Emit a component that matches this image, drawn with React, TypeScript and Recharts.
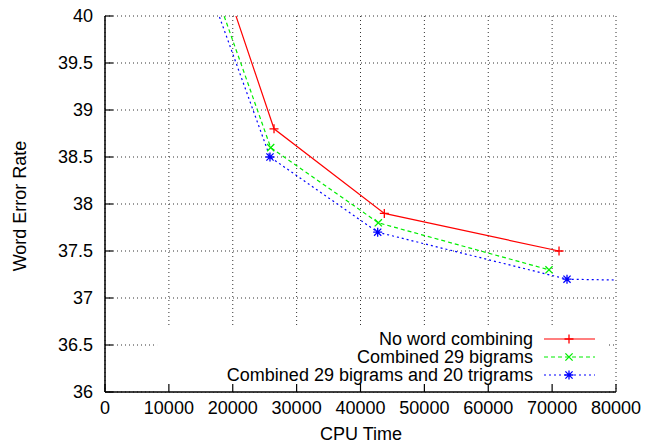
import React from 'react';
import { ComposedChart, Line, XAxis, YAxis, CartesianGrid, ReferenceArea, Legend } from 'recharts';

const FONT = '"Liberation Sans", Arial, Helvetica, sans-serif';
const FS = 18;

const xTicks = [0, 10000, 20000, 30000, 40000, 50000, 60000, 70000, 80000];
const yTicks = [36, 36.5, 37, 37.5, 38, 38.5, 39, 39.5, 40];

const noCombCpu = [15000, 26460, 43730, 71080];
const noCombWer = [41.11, 38.8, 37.9, 37.5];
const bigramCpu = [15000, 25940, 42790, 69510];
const bigramWer = [40.7, 38.6, 37.8, 37.3];
const trigramCpu = [15000, 25830, 42690, 72330, 90000];
const trigramWer = [40.54, 38.5, 37.7, 37.2, 37.18];

const seriesNames = ['No word combining', 'Combined 29 bigrams', 'Combined 29 bigrams and 20 trigrams'];
const seriesColors = ['#ff0000', '#00ee00', '#0000ff'];
const seriesDash = [undefined, '4 3', '2 3'];

const toPoints = (xs: number[], ys: number[]) => xs.map((x, i) => ({ x, y: ys[i] }));
const noComb = toPoints(noCombCpu, noCombWer);
const bigram = toPoints(bigramCpu, bigramWer);
const trigram = toPoints(trigramCpu, trigramWer);

const Marker = ({ cx, cy, kind, color }: { cx: number; cy: number; kind: number; color: string }) => {
  const s = 4.5;
  const d = 3.6;
  let path = '';
  if (kind === 0) path = `M${cx - s},${cy}H${cx + s}M${cx},${cy - s}V${cy + s}`;
  else if (kind === 1) path = `M${cx - d},${cy - d}L${cx + d},${cy + d}M${cx - d},${cy + d}L${cx + d},${cy - d}`;
  else
    path = `M${cx - s},${cy}H${cx + s}M${cx},${cy - s}V${cy + s}M${cx - d},${cy - d}L${cx + d},${cy + d}M${cx - d},${cy + d}L${cx + d},${cy - d}`;
  return <path d={path} stroke={color} strokeWidth={1.3} fill="none" />;
};

const makeDot = (kind: number) => (p: any) => {
  if (p.cx == null || p.cy == null) return <g key={`d${kind}-${p.index}`} />;
  return (
    <g key={`d${kind}-${p.index}`}>
      <Marker cx={p.cx} cy={p.cy} kind={kind} color={seriesColors[kind]} />
    </g>
  );
};

const LegendBox = () => (
  <svg width={410} height={60} style={{ display: 'block' }}>
    {seriesNames.map((name, i) => {
      const y = 11 + i * 18;
      return (
        <g key={name}>
          <text x={333} y={y} dy="0.35em" textAnchor="end" fontSize={FS} fontFamily={FONT} fill="#000">
            {name}
          </text>
          <line x1={344} x2={395} y1={y} y2={y} stroke={seriesColors[i]} strokeWidth={1.2} strokeDasharray={seriesDash[i]} />
          <Marker cx={369} cy={y} kind={i} color={seriesColors[i]} />
        </g>
      );
    })}
  </svg>
);

const axisLine = { stroke: '#000', strokeWidth: 1.5 };
const tickLine = { stroke: '#000', strokeWidth: 1.2 };
const tickStyle = { fill: '#000', fontSize: FS, fontFamily: FONT };

export default function App() {
  return (
    <div style={{ position: 'absolute', left: 0, top: 0, width: 657, height: 445, background: '#fff', fontFamily: FONT }}>
      <ComposedChart width={657} height={445} margin={{ top: 16, right: 41, bottom: 0, left: 0 }}>
        <CartesianGrid stroke="#333" strokeDasharray="1 3" strokeWidth={1} />
        <ReferenceArea x1={8150} x2={78550} y1={36} y2={36.68} fill="#fff" fillOpacity={1} stroke="none" ifOverflow="hidden" />
        <XAxis
          type="number"
          dataKey="x"
          domain={[0, 80000]}
          ticks={xTicks}
          interval={0}
          allowDataOverflow
          height={53}
          tickSize={-8}
          tickMargin={17}
          axisLine={axisLine}
          tickLine={tickLine}
          tick={tickStyle}
        />
        <XAxis
          xAxisId="top"
          orientation="top"
          type="number"
          domain={[0, 80000]}
          ticks={xTicks}
          interval={0}
          allowDataOverflow
          height={0}
          tickSize={-8}
          axisLine={axisLine}
          tickLine={tickLine}
          tick={false}
        />
        <YAxis
          type="number"
          domain={[36, 40]}
          ticks={yTicks}
          interval={0}
          allowDataOverflow
          width={105}
          tickSize={-8}
          tickMargin={20}
          axisLine={axisLine}
          tickLine={tickLine}
          tick={tickStyle}
        />
        <YAxis
          yAxisId="right"
          orientation="right"
          type="number"
          domain={[36, 40]}
          ticks={yTicks}
          interval={0}
          allowDataOverflow
          width={0}
          tickSize={-8}
          axisLine={axisLine}
          tickLine={tickLine}
          tick={false}
        />
        <Line data={noComb} dataKey="y" name={seriesNames[0]} stroke={seriesColors[0]} strokeWidth={1.2} dot={makeDot(0)} isAnimationActive={false} />
        <Line data={bigram} dataKey="y" name={seriesNames[1]} stroke={seriesColors[1]} strokeWidth={1.2} strokeDasharray={seriesDash[1]} dot={makeDot(1)} isAnimationActive={false} />
        <Line data={trigram} dataKey="y" name={seriesNames[2]} stroke={seriesColors[2]} strokeWidth={1.2} strokeDasharray={seriesDash[2]} dot={makeDot(2)} isAnimationActive={false} />
        <Legend
          layout="vertical"
          align="center"
          verticalAlign="middle"
          wrapperStyle={{ left: 200, top: 328, width: 410, height: 60 }}
          content={() => <LegendBox />}
        />
      </ComposedChart>
      <div
        style={{
          position: 'absolute',
          left: 20,
          top: 206,
          transform: 'translate(-50%, -50%) rotate(-90deg)',
          whiteSpace: 'nowrap',
          fontSize: FS,
          color: '#000',
        }}
      >
        Word Error Rate
      </div>
      <div
        style={{
          position: 'absolute',
          left: 361,
          top: 434,
          transform: 'translate(-50%, -50%)',
          whiteSpace: 'nowrap',
          fontSize: FS,
          color: '#000',
        }}
      >
        CPU Time
      </div>
    </div>
  );
}
